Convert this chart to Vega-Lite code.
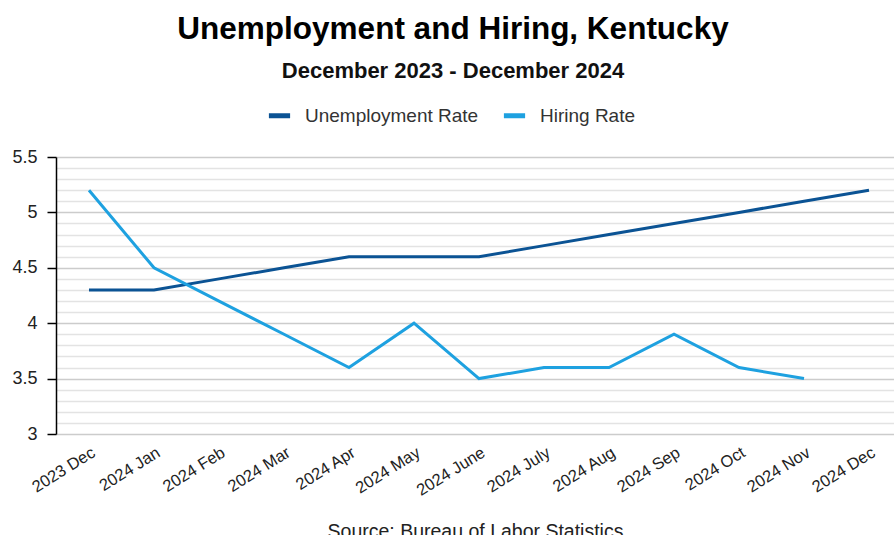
{
  "$schema": "https://vega.github.io/schema/vega-lite/v6.json",
  "autosize": {"type": "none"},
  "width": 838,
  "height": 277,
  "padding": {"left": 56, "top": 157, "right": 0, "bottom": 101},
  "background": "white",
  "title": {
    "text": "Unemployment and Hiring, Kentucky",
    "subtitle": "December 2023 - December 2024",
    "anchor": "middle",
    "dx": -22,
    "font": "Liberation Sans",
    "fontSize": 31.5,
    "fontWeight": "bold",
    "color": "#000000",
    "subtitleFont": "Liberation Sans",
    "subtitleFontSize": 22,
    "subtitleFontWeight": "bold",
    "subtitleColor": "#111111",
    "subtitlePadding": 16,
    "offset": 20
  },
  "data": {
    "values": [
      {"month": "2023 Dec", "series": "Unemployment Rate", "rate": 4.3},
      {"month": "2024 Jan", "series": "Unemployment Rate", "rate": 4.3},
      {"month": "2024 Feb", "series": "Unemployment Rate", "rate": 4.4},
      {"month": "2024 Mar", "series": "Unemployment Rate", "rate": 4.5},
      {"month": "2024 Apr", "series": "Unemployment Rate", "rate": 4.6},
      {"month": "2024 May", "series": "Unemployment Rate", "rate": 4.6},
      {"month": "2024 June", "series": "Unemployment Rate", "rate": 4.6},
      {"month": "2024 July", "series": "Unemployment Rate", "rate": 4.7},
      {"month": "2024 Aug", "series": "Unemployment Rate", "rate": 4.8},
      {"month": "2024 Sep", "series": "Unemployment Rate", "rate": 4.9},
      {"month": "2024 Oct", "series": "Unemployment Rate", "rate": 5.0},
      {"month": "2024 Nov", "series": "Unemployment Rate", "rate": 5.1},
      {"month": "2024 Dec", "series": "Unemployment Rate", "rate": 5.2},
      {"month": "2023 Dec", "series": "Hiring Rate", "rate": 5.2},
      {"month": "2024 Jan", "series": "Hiring Rate", "rate": 4.5},
      {"month": "2024 Feb", "series": "Hiring Rate", "rate": 4.2},
      {"month": "2024 Mar", "series": "Hiring Rate", "rate": 3.9},
      {"month": "2024 Apr", "series": "Hiring Rate", "rate": 3.6},
      {"month": "2024 May", "series": "Hiring Rate", "rate": 4.0},
      {"month": "2024 June", "series": "Hiring Rate", "rate": 3.5},
      {"month": "2024 July", "series": "Hiring Rate", "rate": 3.6},
      {"month": "2024 Aug", "series": "Hiring Rate", "rate": 3.6},
      {"month": "2024 Sep", "series": "Hiring Rate", "rate": 3.9},
      {"month": "2024 Oct", "series": "Hiring Rate", "rate": 3.6},
      {"month": "2024 Nov", "series": "Hiring Rate", "rate": 3.5}
    ]
  },
  "mark": {"type": "line", "strokeWidth": 3},
  "encoding": {
    "x": {
      "field": "month",
      "type": "ordinal",
      "sort": ["2023 Dec", "2024 Jan", "2024 Feb", "2024 Mar", "2024 Apr", "2024 May", "2024 June", "2024 July", "2024 Aug", "2024 Sep", "2024 Oct", "2024 Nov", "2024 Dec"],
      "scale": {"type": "point", "padding": 0.446, "align": 0.569},
      "axis": {
        "title": "Source: Bureau of Labor Statistics",
        "titleFont": "Liberation Sans",
        "titleFontSize": 19.5,
        "titleFontWeight": "normal",
        "titleColor": "#222222",
        "titlePadding": 24,
        "labelAngle": -32,
        "labelFont": "Liberation Sans",
        "labelFontSize": 16.5,
        "labelColor": "#222222",
        "labelPadding": 10,
        "ticks": false,
        "domain": false,
        "grid": false
      }
    },
    "y": {
      "field": "rate",
      "type": "quantitative",
      "scale": {"domain": [3, 5.5], "nice": false, "zero": false},
      "axis": {
        "title": null,
        "values": [3, 3.1, 3.2, 3.3, 3.4, 3.5, 3.6, 3.7, 3.8, 3.9, 4, 4.1, 4.2, 4.3, 4.4, 4.5, 4.6, 4.7, 4.8, 4.9, 5, 5.1, 5.2, 5.3, 5.4, 5.5],
        "labelExpr": "abs(datum.value*2 - round(datum.value*2)) < 0.001 ? format(datum.value, '~g') : ''",
        "labelFont": "Liberation Sans",
        "labelFontSize": 18,
        "labelColor": "#222222",
        "labelPadding": 10,
        "tickSize": 9,
        "tickWidth": 1.5,
        "tickColor": {"condition": {"test": "abs(datum.value*2 - round(datum.value*2)) < 0.001", "value": "#000000"}, "value": "transparent"},
        "domainColor": "#000000",
        "domainWidth": 1.5,
        "grid": true,
        "gridColor": {"condition": {"test": "abs(datum.value*2 - round(datum.value*2)) < 0.001", "value": "#cccccc"}, "value": "#e3e3e3"},
        "gridWidth": 1.5
      }
    },
    "color": {
      "field": "series",
      "type": "nominal",
      "sort": ["Unemployment Rate", "Hiring Rate"],
      "scale": {"domain": ["Unemployment Rate", "Hiring Rate"], "range": ["#0b5394", "#1ea1e0"]},
      "legend": {
        "title": null,
        "orient": "none",
        "direction": "horizontal",
        "legendX": 210,
        "legendY": -55,
        "symbolType": "stroke",
        "symbolStrokeWidth": 5,
        "symbolSize": 450,
        "labelFont": "Liberation Sans",
        "labelFontSize": 19,
        "labelColor": "#333333",
        "labelOffset": 12,
        "labelLimit": 400,
        "columnPadding": 14
      }
    }
  },
  "config": {"view": {"stroke": null}}
}
